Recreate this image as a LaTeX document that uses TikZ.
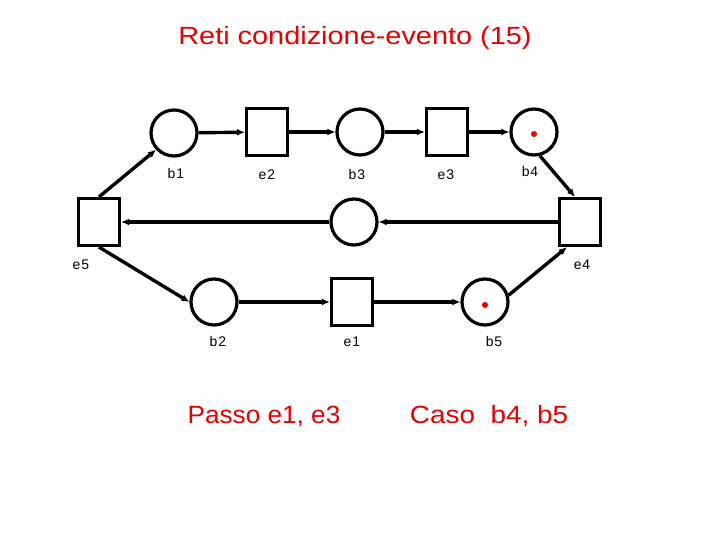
\documentclass[tikz,border=0pt]{standalone}
\usepackage{fontspec}
\usepackage{graphicx}
\setmainfont{Liberation Sans}
\usetikzlibrary{arrows.meta}
\definecolor{tred}{RGB}{230,0,0}
\begin{document}
\begin{tikzpicture}[x=1bp,y=-1bp,
  place/.style={circle,draw,line width=3.2bp,minimum size=46bp,inner sep=0},
  trans/.style={rectangle,draw,line width=3.2bp,minimum width=41bp,minimum height=47bp,inner sep=0},
  arr/.style={line width=3.4bp,-{Latex[length=8bp,width=7bp]}},
  lab/.style={font=\fontsize{14}{16}\selectfont},
  big/.style={text=tred,font=\fontsize{25}{29}\selectfont},
  token/.style={circle,fill=tred,inner sep=0,minimum size=6bp}]
\useasboundingbox (0,0) rectangle (720,540);
\node[big] (title) at (355,38) {\scalebox{1.16}[1]{Reti condizione-evento (15)}};
% places and transitions
\node[place] (b1) at (174,133) {};
\node[trans] (e2) at (267,132) {};
\node[place] (b3) at (360,132) {};
\node[trans] (e3) at (447,132) {};
\node[place] (b4) at (534,132) {};
\node[trans] (e5) at (99,222) {};
\node[place] (bm) at (354,222) {};
\node[trans] (e4) at (580,222) {};
\node[place] (b2) at (214,302) {};
\node[trans] (e1) at (352,302) {};
\node[place] (b5) at (485,302) {};
% tokens
\node[token] (t4) at (534,134) {};
\node[token] (t5) at (485,305) {};
% labels
\node[lab] (lb1) at (176,174) {b\kern1bp 1};
\node[lab] (le2) at (267,175) {e\kern1bp 2};
\node[lab] (lb3) at (357,175) {b\kern1bp 3};
\node[lab] (le3) at (446,175) {e\kern1bp 3};
\node[lab] (lb4) at (530,172) {b\kern1bp 4};
\node[lab] (le5) at (81,265) {e\kern1bp 5};
\node[lab] (le4) at (582,265) {e\kern1bp 4};
\node[lab] (lb2) at (218,342) {b\kern1bp 2};
\node[lab] (le1) at (352,342) {e\kern1bp 1};
\node[lab] (lb5) at (494,342) {b\kern1bp 5};
% arcs
\draw[arr] (b1) -- (e2);
\draw[arr] (e2) -- (b3);
\draw[arr] (b3) -- (e3);
\draw[arr] (e3) -- (b4);
\draw[arr] (b4.284) -- ([xshift=-5bp]e4.north);
\draw[arr] (e4) -- (bm);
\draw[arr] (bm) -- (e5);
\draw[arr] (e5.north) -- (b1.223);
\draw[arr] (e5.south) -- (b2.west);
\draw[arr] (b2) -- (e1);
\draw[arr] (e1) -- (b5);
\draw[arr] (b5.16) -- ([xshift=-13bp]e4.south);
% captions
\node[big] (passo) at (264,416) {\scalebox{1.05}[1]{Passo e1, e3}};
\node[big] (caso) at (489,416) {\scalebox{1.12}[1]{Caso\ \ b4, b5}};
\end{tikzpicture}
\end{document}
